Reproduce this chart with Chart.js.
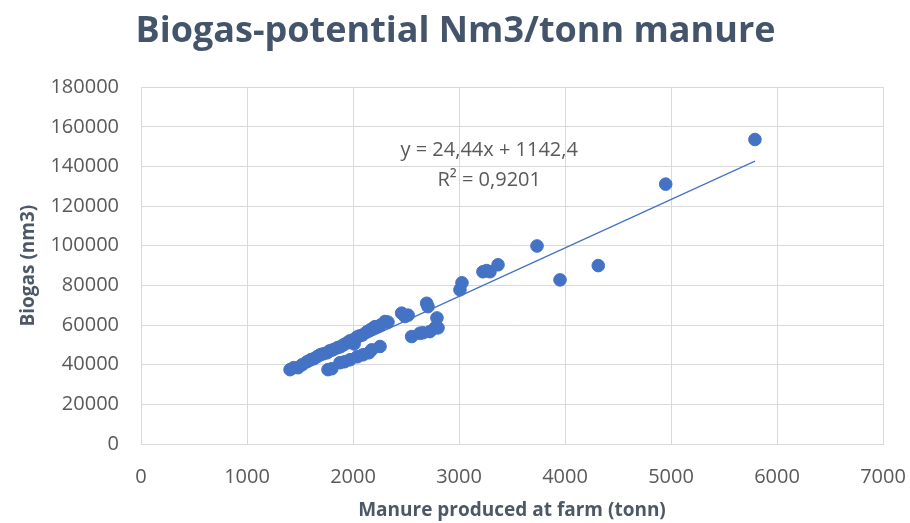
<!DOCTYPE html>
<html><head><meta charset="utf-8">
<script src="https://cdn.jsdelivr.net/npm/chart.js@4"></script>
<style>html,body{margin:0;padding:0;background:#fff;}#wrap{width:910px;height:523px;}</style>
</head><body><div id="wrap"><canvas id="c" width="910" height="523"></canvas></div>
<script>
const chartTitle = "Biogas-potential Nm3/tonn manure";
const xTitle = "Manure produced at farm (tonn)";
const yTitle = "Biogas (nm3)";
const manure = [1406,1440,1481,1520,1566,1600,1630,1660,1690,1720,1755,1780,1810,1849,1880,1910,1943,1970,2000,2010,2038,2060,2090,2132,2160,2190,2208,2226,2260,2302,2330,2459,2491,2520,2695,2708,
  1764,1800,1877,1920,1972,2040,2094,2150,2176,2255,
  2553,2632,2660,2726,2774,2802,2792,
  3009,3028,3226,3260,3292,3368,3736,3953,4314,4950,5792];
const biogas = [37500,38500,38500,40000,41500,42500,43000,44000,45000,45500,46000,47000,47500,48500,49000,50000,51000,52000,52500,50500,54000,54500,55000,56600,57500,58500,59200,59100,60000,61800,61500,66000,64300,65000,71000,69300,
  37500,38000,41000,41500,42500,44000,45000,46000,47500,49200,
  54200,55900,56100,56700,58600,58600,63600,
  77800,81300,86900,87500,86900,90400,99900,82800,90000,131100,153600];
const trendSlope = [24.44];
const trendIntercept = [1142.4];
const trendText = ["y = 24,44x + 1142,4", "R² = 0,9201"];
const xTicks = [0,1000,2000,3000,4000,5000,6000,7000];
const yTicks = [0,20000,40000,60000,80000,100000,120000,140000,160000,180000];

const pts = manure.map((x,i)=>({x:x,y:biogas[i]}));
const xmin = Math.min(...manure), xmax = Math.max(...manure);
const trend = [xmin,xmax].map(x=>({x:x,y:trendSlope[0]*x+trendIntercept[0]}));

const labelPlugin = {
  id:'eqLabel',
  afterDatasetsDraw(chart){
    const ctx=chart.ctx, xs=chart.scales.x, ys=chart.scales.y;
    ctx.save();
    ctx.fillStyle='#595959';
    ctx.font='20px "Open Sans"';
    ctx.textAlign='center'; ctx.textBaseline='middle';
    ctx.fillText(trendText[0], xs.getPixelForValue(3285), ys.getPixelForValue(148000));
    ctx.fillText(trendText[1], xs.getPixelForValue(3285), ys.getPixelForValue(133000));
    ctx.restore();
  }
};

new Chart(document.getElementById('c'),{
  type:'scatter',
  data:{datasets:[
    {data:pts,backgroundColor:'#4472C4',borderColor:'#4472C4',pointRadius:6.3,pointHoverRadius:6.3,order:1},
    {type:'line',data:trend,borderColor:'#4472C4',borderWidth:1.2,pointRadius:0,fill:false,order:2}
  ]},
  options:{
    responsive:false,animation:false,
    layout:{padding:{left:28,right:27,top:0,bottom:0}},
    plugins:{
      legend:{display:false},tooltip:{enabled:false},
      title:{display:true,text:chartTitle,color:'#44546A',font:{family:'"Open Sans"',size:36,weight:'bold'},padding:{top:10,bottom:34}}
    },
    scales:{
      x:{type:'linear',min:0,max:7000,
        afterBuildTicks(s){s.ticks=xTicks.map(v=>({value:v}));},
        afterFit(s){s.height=79;s.paddingRight=0;s.paddingLeft=0;},
        grid:{color:'#d9d9d9',drawTicks:false},border:{color:'#d9d9d9'},
        ticks:{color:'#595959',font:{family:'"Open Sans"',size:20},padding:21,callback:v=>String(v)},
        title:{display:true,text:xTitle,color:'#4d5866',font:{family:'"Open Sans"',size:19,weight:'bold'},padding:{top:0,bottom:1}}
      },
      y:{type:'linear',min:0,max:180000,
        afterBuildTicks(s){s.ticks=yTicks.map(v=>({value:v}));},
        afterFit(s){s.width=113;},
        grid:{color:'#d9d9d9',drawTicks:false},border:{color:'#d9d9d9'},
        ticks:{color:'#595959',font:{family:'"Open Sans"',size:20},padding:22,callback:v=>String(v)},
        title:{display:true,text:yTitle,color:'#4d5866',font:{family:'"Open Sans"',size:19,weight:'bold'},padding:{top:-11,bottom:0}}
      }
    }
  },
  plugins:[labelPlugin]
});
</script></body></html>
